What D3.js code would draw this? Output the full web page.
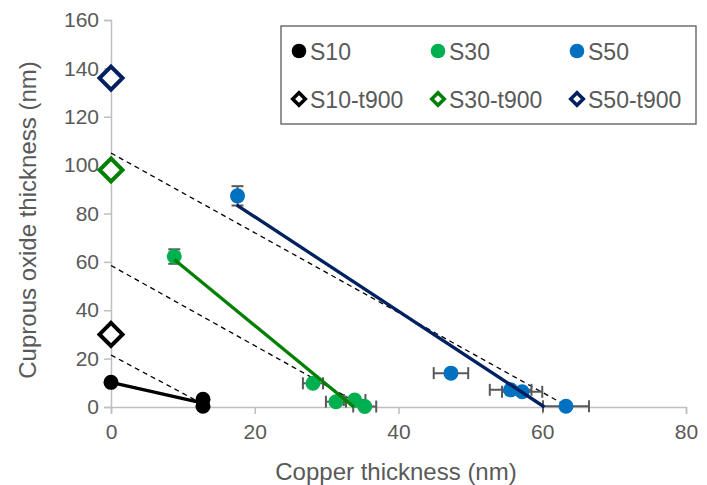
<!DOCTYPE html>
<html><head><meta charset="utf-8">
<script src="https://cdn.jsdelivr.net/npm/d3@7"></script>
<style>body{margin:0;background:#fff}svg{display:block;font-family:"Liberation Sans",Arial,sans-serif}</style>
</head><body><svg id="c" width="707" height="485"></svg>
<script>
// ---- data ----
const seriesNames = ["S10","S30","S50","S10-t900","S30-t900","S50-t900"];
const s10X = [0, 12.8, 12.8];
const s10Y = [10.2, 3.2, 0.3];
const s30X = [8.8, 28.1, 31.3, 33.9, 35.3];
const s30Y = [62.2, 9.8, 2.2, 2.9, 0.2];
const s30XErr = [0, 1.4, 1.4, 1.5, 1.6];
const s30YErr = [3, 0, 0, 0, 0];
const s50X = [17.6, 47.3, 55.6, 57.2, 63.3];
const s50Y = [87.3, 14.0, 7.1, 6.3, 0.3];
const s50XErr = [0, 2.4, 2.9, 2.8, 3.2];
const s50YErr = [4, 0, 0, 0, 0];
const t900X = [0, 0, 0];
const t900Y = [30, 98, 136];
// fitted lines (endpoints)
const fitS10 = [[0, 10.2], [12.8, 1.6]];
const fitS30 = [[8.8, 61], [33.8, 0]];
const fitS50 = [[17.5, 83.5], [60.3, 0]];
// dashed conversion lines
const dashS10 = [[0, 21.5], [12.6, 1.5]];
const dashS30 = [[0, 58.5], [35.3, 0]];
const dashS50 = [[0, 105], [63.2, 0.8]];
const xTicks = [0, 20, 40, 60, 80];
const yTicks = [0, 20, 40, 60, 80, 100, 120, 140, 160];

const colors = {S10:"#000000", S30:"#00B050", S50:"#0070C0", "S10-t900":"#000000", "S30-t900":"#008000", "S50-t900":"#002060"};
const lineColors = ["#000000", "#008000", "#002060"];

const svg = d3.select("#c");
const x = d3.scaleLinear().domain([0, 80]).range([111, 686]);
const y = d3.scaleLinear().domain([0, 160]).range([407, 20]);
const grey = "#595959";

// axes
const xAxis = svg.append("g").attr("transform", `translate(0,${y(0)})`)
  .call(d3.axisBottom(x).tickValues(xTicks).tickSize(7).tickPadding(10));
const yAxis = svg.append("g").attr("transform", `translate(${x(0)},0)`)
  .call(d3.axisLeft(y).tickValues(yTicks).tickSize(7).tickPadding(5));
[xAxis, yAxis].forEach(a => {
  a.selectAll("path,line").attr("stroke", "#BFBFBF").attr("stroke-width", 1.5);
  a.selectAll("text").attr("fill", grey).attr("font-size", 21).attr("font-family", "Liberation Sans, Arial, sans-serif");
});

svg.append("text").attr("x", 396).attr("y", 480).attr("text-anchor", "middle")
  .attr("fill", grey).attr("font-size", 24).text("Copper thickness (nm)");
svg.append("text").attr("transform", "translate(36,220) rotate(-90)").attr("text-anchor", "middle")
  .attr("fill", grey).attr("font-size", 24).text("Cuprous oxide thickness (nm)");

const line = d3.line().x(d => x(d[0])).y(d => y(d[1]));

// dashed lines
[dashS10, dashS30, dashS50].forEach(d => {
  svg.append("path").attr("d", line(d)).attr("fill", "none").attr("stroke", "#000")
    .attr("stroke-width", 1.3).attr("stroke-dasharray", "5,4");
});

// error bars
function errBars(xs, ys, xe, ye) {
  const g = svg.append("g").attr("stroke", grey).attr("stroke-width", 2).attr("fill", "none");
  xs.forEach((xv, i) => {
    if (xe[i] > 0) {
      const x1 = x(xv - xe[i]), x2 = x(xv + xe[i]), yy = y(ys[i]);
      g.append("line").attr("x1", x1).attr("x2", x2).attr("y1", yy).attr("y2", yy);
      g.append("line").attr("x1", x1).attr("x2", x1).attr("y1", yy - 6).attr("y2", yy + 6);
      g.append("line").attr("x1", x2).attr("x2", x2).attr("y1", yy - 6).attr("y2", yy + 6);
    }
    if (ye[i] > 0) {
      const y1 = y(ys[i] - ye[i]), y2 = y(ys[i] + ye[i]), xx = x(xv);
      g.append("line").attr("x1", xx).attr("x2", xx).attr("y1", y1).attr("y2", y2);
      g.append("line").attr("x1", xx - 6).attr("x2", xx + 6).attr("y1", y1).attr("y2", y1);
      g.append("line").attr("x1", xx - 6).attr("x2", xx + 6).attr("y1", y2).attr("y2", y2);
    }
  });
}
errBars(s30X, s30Y, s30XErr, s30YErr);
errBars(s50X, s50Y, s50XErr, s50YErr);

// points
function dots(xs, ys, c) {
  svg.append("g").selectAll("circle").data(xs).join("circle")
    .attr("cx", d => x(d)).attr("cy", (d, i) => y(ys[i])).attr("r", 7.5).attr("fill", c);
}
dots(s10X, s10Y, colors.S10);
dots(s30X, s30Y, colors.S30);
dots(s50X, s50Y, colors.S50);

// fit lines
[fitS10, fitS30, fitS50].forEach((d, i) => {
  svg.append("path").attr("d", line(d)).attr("fill", "none").attr("stroke", lineColors[i]).attr("stroke-width", 3.3);
});

// diamonds
const diamond = s => `M0,${-s}L${s},0L0,${s}L${-s},0Z`;
const tColors = [colors["S10-t900"], colors["S30-t900"], colors["S50-t900"]];
svg.append("g").selectAll("path").data(t900X).join("path")
  .attr("transform", (d, i) => `translate(${x(d)},${y(t900Y[i])})`)
  .attr("d", diamond(11.5)).attr("fill", "#fff").attr("stroke", (d, i) => tColors[i]).attr("stroke-width", 4);

// legend
const lg = svg.append("g");
lg.append("rect").attr("x", 281).attr("y", 26).attr("width", 415).attr("height", 98)
  .attr("fill", "#fff").attr("stroke", grey).attr("stroke-width", 1.3);
const colX = [299, 438, 577];
const rowY = [51, 99];
seriesNames.forEach((n, i) => {
  const cx = colX[i % 3], cy = rowY[Math.floor(i / 3)];
  if (i < 3) {
    lg.append("circle").attr("cx", cx).attr("cy", cy).attr("r", 7.3).attr("fill", colors[n]);
  } else {
    lg.append("path").attr("transform", `translate(${cx},${cy})`).attr("d", diamond(6.3))
      .attr("fill", "#fff").attr("stroke", colors[n]).attr("stroke-width", 3.5);
  }
  lg.append("text").attr("x", cx + 11).attr("y", cy + 8.5).attr("fill", grey).attr("font-size", 23).text(n);
});
</script></body></html>
